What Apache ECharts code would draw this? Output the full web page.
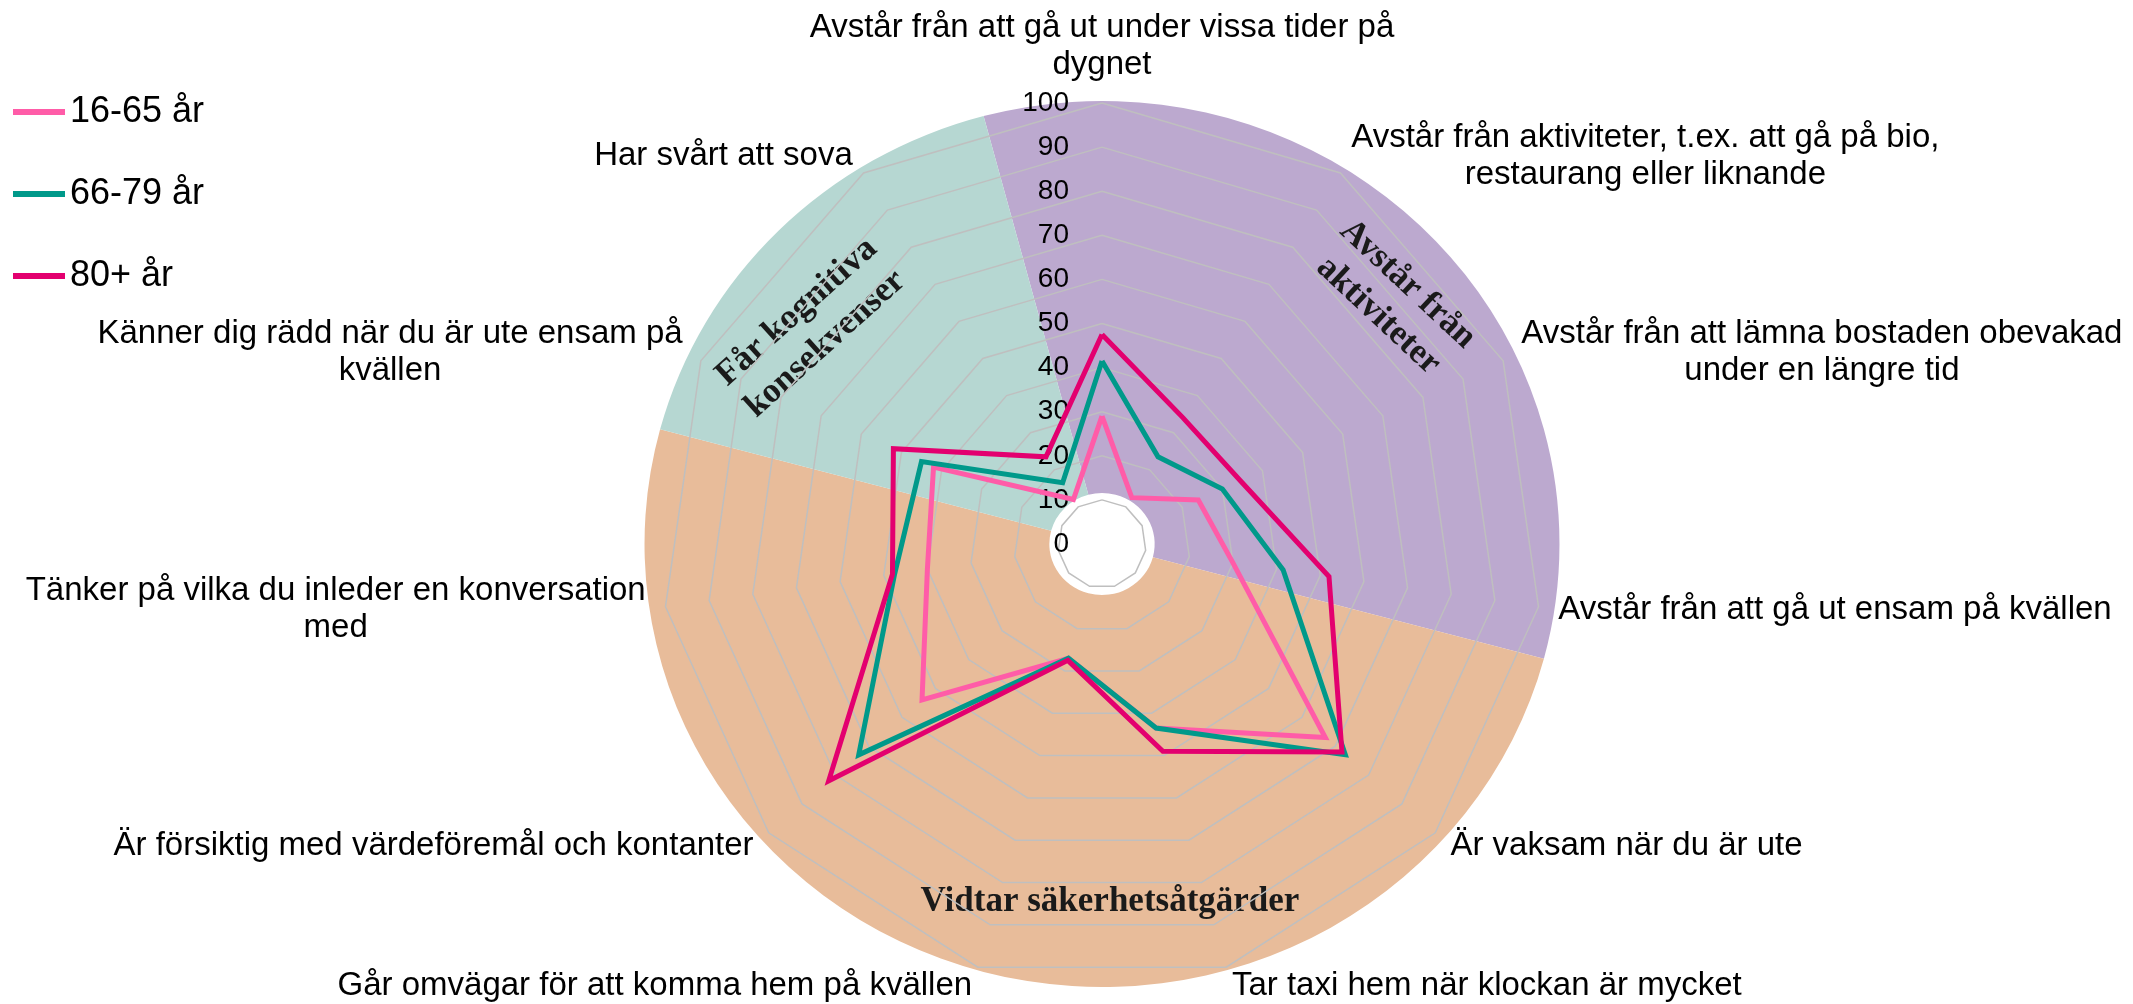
<!DOCTYPE html>
<html>
<head>
<meta charset="utf-8">
<script src="https://cdn.jsdelivr.net/npm/echarts@6/dist/echarts.min.js"></script>
<style>
html,body{margin:0;padding:0;background:#ffffff;}
#chart{width:2133px;height:1004px;}
</style>
</head>
<body>
<div id="chart"></div>
<script>
// ---- data (clockwise from the top axis) ----
const categories = [
  'Avstår från att gå ut under vissa tider på\ndygnet',
  'Avstår från aktiviteter, t.ex. att gå på bio,\nrestaurang eller liknande',
  'Avstår från att lämna bostaden obevakad\nunder en längre tid',
  'Avstår från att gå ut ensam på kvällen',
  'Är vaksam när du är ute',
  'Tar taxi hem när klockan är mycket',
  'Går omvägar för att komma hem på kvällen',
  'Är försiktig med värdeföremål och kontanter',
  'Tänker på vilka du inleder en konversation\nmed',
  'Känner dig rädd när du är ute ensam på\nkvällen',
  'Har svårt att sova'
];
const seriesNames = ['16-65 år', '66-79 år', '80+ år'];
const values1665 = [29, 12.5, 24, 30, 67, 43.5, 27, 54, 40, 42, 12];
const values6679 = [41.5, 23.5, 30, 41.5, 73, 43.5, 27, 73, 47.5, 45, 16.5];
const values80   = [47.5, 34, 34.5, 52, 72, 49, 27.5, 82, 48, 52, 23.5];
const axisMin = 0, axisMax = 100, axisInterval = 10;

const sectionNames = ['Avstår från\naktiviteter', 'Vidtar säkerhetsåtgärder', 'Får kognitiva\nkonsekvenser'];
const sectionShares = [4, 6, 2];

// ---- styles ----
const seriesColors = ['#FF5CA8', '#00998A', '#E3006F'];
const sectionColors = ['#BCA9CF', '#E8BC9A', '#B6D7D2'];
const FONT = '"Liberation Sans", Arial, sans-serif';
const SERIF = '"Liberation Serif", "Times New Roman", serif';
const CX = 1102, CY = 544, R = 441;
const PIE_R = 443, PIE_R0 = 51, PIE_SX = 1.0327, PIE_START = -15;

// ECharts radar runs counter-clockwise; reorder so the chart reads clockwise
const order = [0].concat(categories.map((_, i) => i).slice(1).reverse());
const reorder = arr => order.map(k => arr[k]);
const allSeries = [values1665, values6679, values80];

const shareTotal = sectionShares.reduce((a, b) => a + b, 0);

const sectionStyle = {fontSize: 35, fontWeight: 'bold', fontFamily: SERIF, fill: '#1a1a1a', align: 'center', verticalAlign: 'middle', lineHeight: 43};

const chart = echarts.init(document.getElementById('chart'), null, {renderer: 'canvas'});
chart.setOption({
  animation: false,
  backgroundColor: '#ffffff',
  legend: {
    data: seriesNames,
    orient: 'vertical',
    left: 13,
    top: 92,
    padding: 0,
    icon: 'rect',
    itemWidth: 52,
    itemHeight: 6,
    itemGap: 42,
    textStyle: {fontSize: 36, fontFamily: FONT, color: '#000', lineHeight: 40}
  },
  radar: {
    center: [CX, CY],
    radius: R,
    startAngle: 90,
    splitNumber: (axisMax - axisMin) / axisInterval,
    shape: 'polygon',
    z: 3,
    axisNameGap: 20,
    axisName: {
      color: '#000',
      fontSize: 33,
      fontFamily: FONT,
      lineHeight: 37,
      formatter: function (name) {
        return name.split('\n').map(s => '{c|' + s + '}').join('\n');
      },
      rich: {c: {align: 'center', fontSize: 33, fontFamily: FONT, color: '#000', lineHeight: 37}}
    },
    axisLine: {show: false},
    axisTick: {show: false},
    axisLabel: {show: true, color: '#000', fontSize: 28, fontFamily: FONT, margin: 33, showMinLabel: true, showMaxLabel: true},
    splitLine: {lineStyle: {color: '#BFBFBF', width: 1.5}},
    splitArea: {show: false},
    indicator: order.map((k, i) => ({
      name: categories[k], min: axisMin, max: axisMax,
      axisLabel: {show: i === 0}
    }))
  },
  graphic: [
    {type: 'text', x: 1393, y: 300, rotation: -43 * Math.PI / 180, z: 2, silent: true,
     style: Object.assign({text: sectionNames[0]}, sectionStyle)},
    {type: 'text', x: 1110, y: 902, z: 2, silent: true,
     style: Object.assign({text: sectionNames[1]}, sectionStyle)},
    {type: 'text', x: 811, y: 328, rotation: 42 * Math.PI / 180, z: 2, silent: true,
     style: Object.assign({text: sectionNames[2]}, sectionStyle)}
  ],
  series: [
    {
      type: 'custom',
      coordinateSystem: 'none',
      z: 1,
      silent: true,
      data: sectionShares,
      renderItem: function (params) {
        const i = params.dataIndex;
        let before = 0;
        for (let j = 0; j < i; j++) before += sectionShares[j];
        const a0 = PIE_START + before / shareTotal * 360;
        const a1 = a0 + sectionShares[i] / shareTotal * 360;
        return {
          type: 'sector',
          x: CX, y: CY, scaleX: PIE_SX, scaleY: 1,
          shape: {cx: 0, cy: 0, r0: PIE_R0, r: PIE_R,
                  startAngle: (a0 - 90) * Math.PI / 180,
                  endAngle: (a1 - 90) * Math.PI / 180, clockwise: true},
          style: {fill: sectionColors[i]}
        };
      }
    },
    {
      type: 'radar',
      z: 5,
      symbol: 'none',
      data: allSeries.map((vals, s) => ({
        name: seriesNames[s],
        value: reorder(vals),
        itemStyle: {color: seriesColors[s]},
        lineStyle: {color: seriesColors[s], width: 5, join: 'miter', miterLimit: 10}
      }))
    }
  ]
});
</script>
</body>
</html>
